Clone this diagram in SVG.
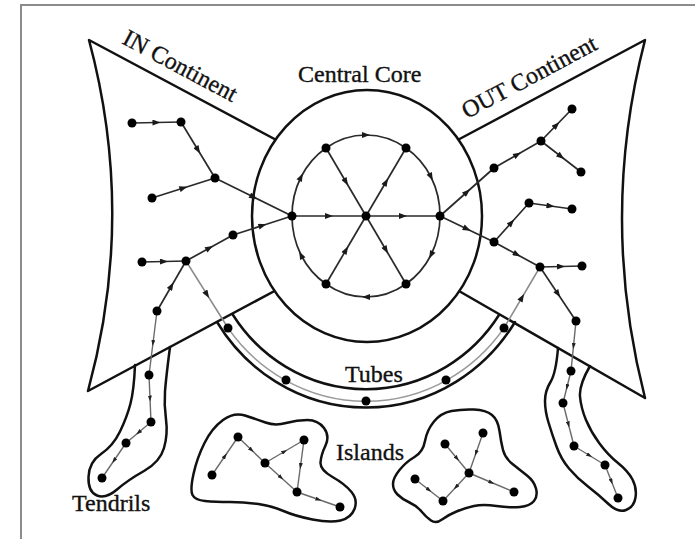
<svg xmlns="http://www.w3.org/2000/svg" width="695" height="539" viewBox="0 0 695 539">
<style>
.outline{fill:none;stroke:#111;stroke-width:2.5;stroke-linejoin:round;stroke-linecap:round}
.lbl{font-family:"Liberation Serif","Times New Roman",serif;font-size:24px;fill:#111;stroke:#111;stroke-width:0.35}
.e{fill:none;stroke:#2a2a2a;stroke-width:1.7;marker-mid:url(#a)}
.g{fill:none;stroke:#9a9a9a;stroke-width:1.4}
.ge{fill:none;stroke:#8a8a8a;stroke-width:1.5;marker-mid:url(#a)}
.t{fill:none;stroke:#6a6a6a;stroke-width:1.4;marker-mid:url(#s)}
.v{fill:#000}
</style>
<defs>
<marker id="a" viewBox="0 0 8 6" refX="4" refY="3" markerWidth="9" markerHeight="6" orient="auto" markerUnits="userSpaceOnUse"><path d="M0,0 L8,3 L0,6 z" fill="#1a1a1a"/></marker>
<marker id="s" viewBox="0 0 6 4" refX="3" refY="2" markerWidth="6" markerHeight="4" orient="auto" markerUnits="userSpaceOnUse"><path d="M0,0 L6,2 L0,4 z" fill="#222"/></marker>
</defs>
<rect width="695" height="539" fill="#fff"/>
<path d="M21,539 L21,5 L695,5" fill="none" stroke="#8c8c8c" stroke-width="2"/>

<g id="in-continent">
<path class="outline" d="M282,143 L89,40 Q136,215 88,391 L282,287"/>
<text class="lbl" x="121" y="43" transform="rotate(28.1 121 43)">IN Continent</text>
</g>
<g id="out-continent">
<path class="outline" d="M452,143 L645,40 Q599,218 645,398 L452,287"/>
<text class="lbl" x="467" y="119" transform="rotate(-28.1 467 119)">OUT Continent</text>
</g>
<g id="tendrils">
<path class="outline" d="M135,365 Q134,390 130.5,403.5 Q127,417 120,431.5 Q113,446 101,454 Q89,462 88.5,477 Q88,492 97,495.5 Q106,499 117,489.5 Q128,480 144,471 Q160,462 164,448 Q168,434 166,419.5 Q164,405 165,391.5 Q166,378 170,347"/>
<path class="outline" d="M558,348 Q556,373 550.5,382 Q545,391 545,401 Q545,411 548.5,422.5 Q552,434 556.5,446.5 Q561,459 569,468.5 Q577,478 588,486.5 Q599,495 608.5,504 Q618,513 626,510 Q634,507 635.5,497.5 Q637,488 632.5,479.5 Q628,471 618,463 Q608,455 599.5,443.5 Q591,432 586,420 Q581,408 580,396.5 Q579,385 590,366"/>
<text class="lbl" x="72" y="511">Tendrils</text>
</g>
<g id="tubes">
<path class="outline" d="M233,315 A159,164 0 0 0 499,315"/>
<path class="outline" d="M217,322 A176,183 0 0 0 515,322"/>
<path class="g" d="M228,328 A170,176 0 0 0 504,328"/>
<text class="lbl" x="345" y="382">Tubes</text>
</g>
<g id="central-core">
<ellipse cx="367" cy="216" rx="115" ry="126" fill="#fff" stroke="#111" stroke-width="2.5"/>
<text class="lbl" x="298" y="82">Central Core</text>
</g>
<g id="islands">
<path class="outline" d="M192.5,495 Q190,490 193.5,474 Q197,458 204.5,443 Q212,428 223,420 Q234,412 245,415.5 Q256,419 265.5,422.5 Q275,426 286,423 Q297,420 307.5,420 Q318,420 324,428 Q330,436 325.5,445.5 Q321,455 320.5,462.5 Q320,470 332.5,477 Q345,484 351.5,492 Q358,500 354.5,509 Q351,518 340.5,520.5 Q330,523 312.5,519.5 Q295,516 283.5,511 Q272,506 258.5,504 Q245,502 230,502 Q215,502 205,501 Q195,500 192.5,495 Z"/>
<path class="outline" d="M393,484 Q393,478 399.5,470 Q406,462 414.5,457 Q423,452 425,441 Q427,430 434,421.5 Q441,413 451.5,411 Q462,409 474,409.5 Q486,410 492,415 Q498,420 499.5,431 Q501,442 503,450 Q505,458 512.5,464 Q520,470 527,475.5 Q534,481 536,488.5 Q538,496 534,501 Q530,506 520,507 Q510,508 496.5,506 Q483,504 474,506 Q465,508 456.5,511.5 Q448,515 442,519.5 Q436,524 431,520.5 Q426,517 421.5,511.5 Q417,506 409.5,502.5 Q402,499 397.5,494.5 Q393,490 393,484 Z"/>
<text class="lbl" x="336" y="460">Islands</text>
</g>

<g id="connectors">
<path class="e" d="M132,123 L156.5,122.5 L181,122"/>
<path class="e" d="M181,122 L198,150 L215,178"/>
<path class="e" d="M152,198 L183.5,188 L215,178"/>
<path class="e" d="M215,178 L253.5,197 L292,216"/>
<path class="e" d="M142,262 L164,261.5 L186,261"/>
<path class="e" d="M186,261 L209.5,248 L233,235"/>
<path class="e" d="M233,235 L262.5,225.5 L292,216"/>
<path class="e" d="M157,311 L171.5,286 L186,261"/>
<path class="e" d="M292,216 L329,216 L366,216"/>
<path class="e" d="M366,216 L403,216 L440,216"/>
<path class="e" d="M326,148 L346,182 L366,216"/>
<path class="e" d="M326,284 L346,250 L366,216"/>
<path class="e" d="M366,216 L386,182 L406,148"/>
<path class="e" d="M366,216 L386,250 L406,284"/>
<path class="e" d="M326,148 A74,81 0 0 1 366,135 A74,81 0 0 1 406,148"/>
<path class="e" d="M406,148 A74,81 0 0 1 431,177 A74,81 0 0 1 440,216"/>
<path class="e" d="M440,216 A74,81 0 0 1 431,255 A74,81 0 0 1 406,284"/>
<path class="e" d="M406,284 A74,81 0 0 1 366,297 A74,81 0 0 1 326,284"/>
<path class="e" d="M326,284 A74,81 0 0 1 301,255 A74,81 0 0 1 292,216"/>
<path class="e" d="M292,216 A74,81 0 0 1 301,177 A74,81 0 0 1 326,148"/>
<path class="e" d="M440,216 L467,192 L494,168"/>
<path class="e" d="M494,168 L517.5,154.5 L541,141"/>
<path class="e" d="M541,141 L556.5,125 L572,109"/>
<path class="e" d="M541,141 L561,156.5 L581,172"/>
<path class="e" d="M440,216 L467,229 L494,242"/>
<path class="e" d="M494,242 L511.5,222.5 L529,203"/>
<path class="e" d="M529,203 L550.5,206 L572,209"/>
<path class="e" d="M494,242 L517,254.5 L540,267"/>
<path class="e" d="M540,267 L561,266.5 L582,266"/>
<path class="e" d="M540,267 L558,294 L576,321"/>
<path class="ge" d="M186,261 L207,294.5 L228,328"/>
<path class="ge" d="M504,328 L522,297.5 L540,267"/>
<path class="t" d="M157,311 L153,343 L149,375"/>
<path class="t" d="M149,375 L150,398.5 L151,422"/>
<path class="t" d="M151,422 L138.5,432.5 L126,443"/>
<path class="t" d="M126,443 L114,460.5 L102,478"/>
<path class="t" d="M576,321 L573.5,346 L571,371"/>
<path class="t" d="M571,371 L567,387 L563,403"/>
<path class="t" d="M563,403 L568.5,424.5 L574,446"/>
<path class="t" d="M574,446 L589.5,455.5 L605,465"/>
<path class="t" d="M605,465 L611.5,481.5 L618,498"/>
<path class="t" d="M212,475 L225,456 L238,437"/>
<path class="t" d="M238,437 L251.5,450 L265,463"/>
<path class="t" d="M265,463 L284.5,451.5 L304,440"/>
<path class="t" d="M304,440 L300.5,466 L297,492"/>
<path class="t" d="M265,463 L281,477.5 L297,492"/>
<path class="t" d="M297,492 L318.5,499.5 L340,507"/>
<path class="t" d="M445,444 L457,458.5 L469,473"/>
<path class="t" d="M483,433 L476,453 L469,473"/>
<path class="t" d="M469,473 L491.5,482.5 L514,492"/>
<path class="t" d="M469,473 L456,487 L443,501"/>
<path class="t" d="M415,479 L429,490 L443,501"/>
</g>

<g id="in-vertices" class="v">
<circle cx="132" cy="123" r="4.5"/><circle cx="181" cy="122" r="4.5"/><circle cx="215" cy="178" r="4.5"/><circle cx="152" cy="198" r="4.5"/><circle cx="233" cy="235" r="4.5"/><circle cx="186" cy="261" r="4.5"/><circle cx="142" cy="262" r="4.5"/><circle cx="157" cy="311" r="4.5"/>
</g>
<g id="core-vertices" class="v">
<circle cx="292" cy="216" r="4.5"/><circle cx="366" cy="216" r="4.5"/><circle cx="440" cy="216" r="4.5"/><circle cx="326" cy="148" r="4.5"/><circle cx="406" cy="148" r="4.5"/><circle cx="326" cy="284" r="4.5"/><circle cx="406" cy="284" r="4.5"/>
</g>
<g id="out-vertices" class="v">
<circle cx="572" cy="109" r="4.5"/><circle cx="541" cy="141" r="4.5"/><circle cx="581" cy="172" r="4.5"/><circle cx="494" cy="168" r="4.5"/><circle cx="529" cy="203" r="4.5"/><circle cx="572" cy="209" r="4.5"/><circle cx="494" cy="242" r="4.5"/><circle cx="540" cy="267" r="4.5"/><circle cx="582" cy="266" r="4.5"/><circle cx="576" cy="321" r="4.5"/>
</g>
<g id="tube-vertices" class="v">
<circle cx="228" cy="328" r="4.5"/><circle cx="286" cy="380" r="4.5"/><circle cx="366" cy="401" r="4.5"/><circle cx="446" cy="380" r="4.5"/><circle cx="504" cy="328" r="4.5"/>
</g>
<g id="tendril-vertices" class="v">
<circle cx="149" cy="375" r="4.5"/><circle cx="151" cy="422" r="4.5"/><circle cx="126" cy="443" r="4.5"/><circle cx="102" cy="478" r="4.5"/>
<circle cx="571" cy="371" r="4.5"/><circle cx="563" cy="403" r="4.5"/><circle cx="574" cy="446" r="4.5"/><circle cx="605" cy="465" r="4.5"/><circle cx="618" cy="498" r="4.5"/>
</g>
<g id="island-vertices" class="v">
<circle cx="212" cy="475" r="4.5"/><circle cx="238" cy="437" r="4.5"/><circle cx="265" cy="463" r="4.5"/><circle cx="304" cy="440" r="4.5"/><circle cx="297" cy="492" r="4.5"/><circle cx="340" cy="507" r="4.5"/>
<circle cx="445" cy="444" r="4.5"/><circle cx="483" cy="433" r="4.5"/><circle cx="469" cy="473" r="4.5"/><circle cx="415" cy="479" r="4.5"/><circle cx="443" cy="501" r="4.5"/><circle cx="514" cy="492" r="4.5"/>
</g>
</svg>
